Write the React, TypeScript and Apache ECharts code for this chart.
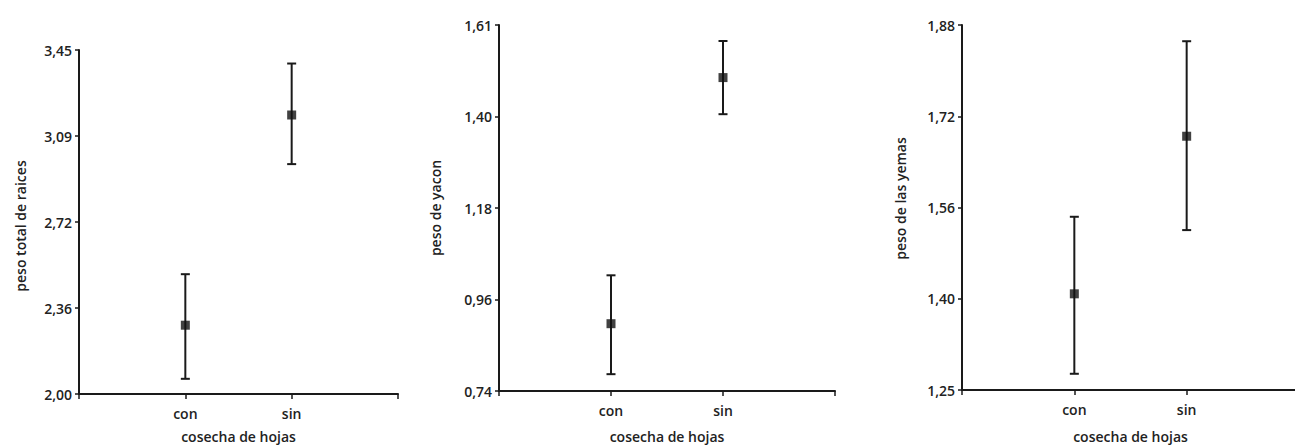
import React, { useEffect, useRef } from "react";
import * as echarts from "echarts";

const categories = ["con", "sin"];

const raicesMean = [2.29, 3.176];
const raicesLow = [2.064, 2.969];
const raicesHigh = [2.505, 3.393];
const raicesTicks = ["2,00", "2,36", "2,72", "3,09", "3,45"];

const yaconMean = [0.9, 1.485];
const yaconLow = [0.78, 1.398];
const yaconHigh = [1.015, 1.572];
const yaconTicks = ["0,74", "0,96", "1,18", "1,40", "1,61"];

const yemasMean = [1.416, 1.688];
const yemasLow = [1.278, 1.526];
const yemasHigh = [1.549, 1.852];
const yemasTicks = ["1,25", "1,40", "1,56", "1,72", "1,88"];

const xName = "cosecha de hojas";
const yNames = ["peso total de raices", "peso de yacon", "peso de las yemas"];

const FONT = "Open Sans";
const TXT = "#222222";
const LINE = "#1a1a1a";
const FS = 14;
const FW = 600;

export default function App() {
  const ref = useRef<HTMLDivElement>(null);
  useEffect(() => {
    if (!ref.current) return;
    const chart = echarts.init(ref.current, undefined, { renderer: "svg" });

    const panels = [
      { mean: raicesMean, low: raicesLow, high: raicesHigh, ticks: raicesTicks, grid: { left: 79, top: 50, width: 319, height: 344 }, nameGap: 35, yGap: 52, yPad: [0, 8, 0, 0] },
      { mean: yaconMean, low: yaconLow, high: yaconHigh, ticks: yaconTicks, grid: { left: 499, top: 25, width: 336, height: 366 }, nameGap: 38, yGap: 57, yPad: [0, 0, 0, 0] },
      { mean: yemasMean, low: yemasLow, high: yemasHigh, ticks: yemasTicks, grid: { left: 962, top: 25, width: 337, height: 365 }, nameGap: 39, yGap: 55, yPad: [0, 0, 0, 18] },
    ];

    const grids: any[] = [];
    const xAxes: any[] = [];
    const yAxes: any[] = [];
    const series: any[] = [];

    panels.forEach((p, i) => {
      const min = parseFloat(p.ticks[0].replace(",", "."));
      const max = parseFloat(p.ticks[p.ticks.length - 1].replace(",", "."));
      const interval = Math.round(((max - min) / (p.ticks.length - 1)) * 1e6) / 1e6;
      grids.push({ ...p.grid, outerBoundsMode: "none", containLabel: false });
      xAxes.push({
        type: "value",
        gridIndex: i,
        min: 0,
        max: categories.length + 1,
        interval: 1,
        splitLine: { show: false },
        axisLine: { lineStyle: { color: LINE, width: 2 } },
        axisTick: { show: true, length: 5, lineStyle: { color: LINE, width: 1.5 } },
        axisLabel: {
          margin: 12,
          color: TXT,
          fontFamily: FONT,
          fontSize: FS,
          fontWeight: FW,
          formatter: (v: number) => categories[Math.round(v) - 1] ?? "",
        },
        name: xName,
        nameLocation: "middle",
        nameGap: p.nameGap,
        nameTextStyle: { color: TXT, fontFamily: FONT, fontSize: FS, fontWeight: FW },
      });
      yAxes.push({
        type: "value",
        gridIndex: i,
        min,
        max,
        interval,
        splitLine: { show: false },
        axisLine: { show: true, lineStyle: { color: LINE, width: 2 } },
        axisTick: { show: true, length: 4, lineStyle: { color: LINE, width: 1.5 } },
        axisLabel: {
          margin: 7,
          color: TXT,
          fontFamily: FONT,
          fontSize: FS,
          fontWeight: FW,
          formatter: (v: number) => p.ticks[Math.round((v - min) / interval)] ?? "",
        },
        name: yNames[i],
        nameLocation: "middle",
        nameGap: p.yGap,
        nameRotate: 90,
        nameTextStyle: { color: TXT, fontFamily: FONT, fontSize: FS, fontWeight: FW, padding: p.yPad },
      });
      series.push({
        type: "custom",
        xAxisIndex: i,
        yAxisIndex: i,
        data: categories.map((_, k) => [k + 1, p.low[k], p.high[k]]),
        encode: { x: 0, y: [1, 2] },
        renderItem: (params: any, api: any) => {
          const x = api.value(0);
          const lo = api.coord([x, api.value(1)]);
          const hi = api.coord([x, api.value(2)]);
          const w = 4.5;
          const style = { stroke: LINE, lineWidth: 2 };
          return {
            type: "group",
            children: [
              { type: "line", shape: { x1: hi[0], y1: hi[1], x2: lo[0], y2: lo[1] }, style },
              { type: "line", shape: { x1: hi[0] - w, y1: hi[1], x2: hi[0] + w, y2: hi[1] }, style },
              { type: "line", shape: { x1: lo[0] - w, y1: lo[1], x2: lo[0] + w, y2: lo[1] }, style },
            ],
          };
        },
        z: 2,
      });
      series.push({
        type: "scatter",
        xAxisIndex: i,
        yAxisIndex: i,
        symbol: "rect",
        symbolSize: 9,
        itemStyle: { color: "#111" },
        data: categories.map((_, k) => [k + 1, p.mean[k]]),
        z: 3,
      });
    });

    chart.setOption({
      animation: false,
      backgroundColor: "#ffffff",
      grid: grids,
      xAxis: xAxes,
      yAxis: yAxes,
      series,
    });
    return () => chart.dispose();
  }, []);
  return (
    <div
      ref={ref}
      style={{ position: "fixed", left: 0, top: 0, width: 1295, height: 445 }}
    />
  );
}
